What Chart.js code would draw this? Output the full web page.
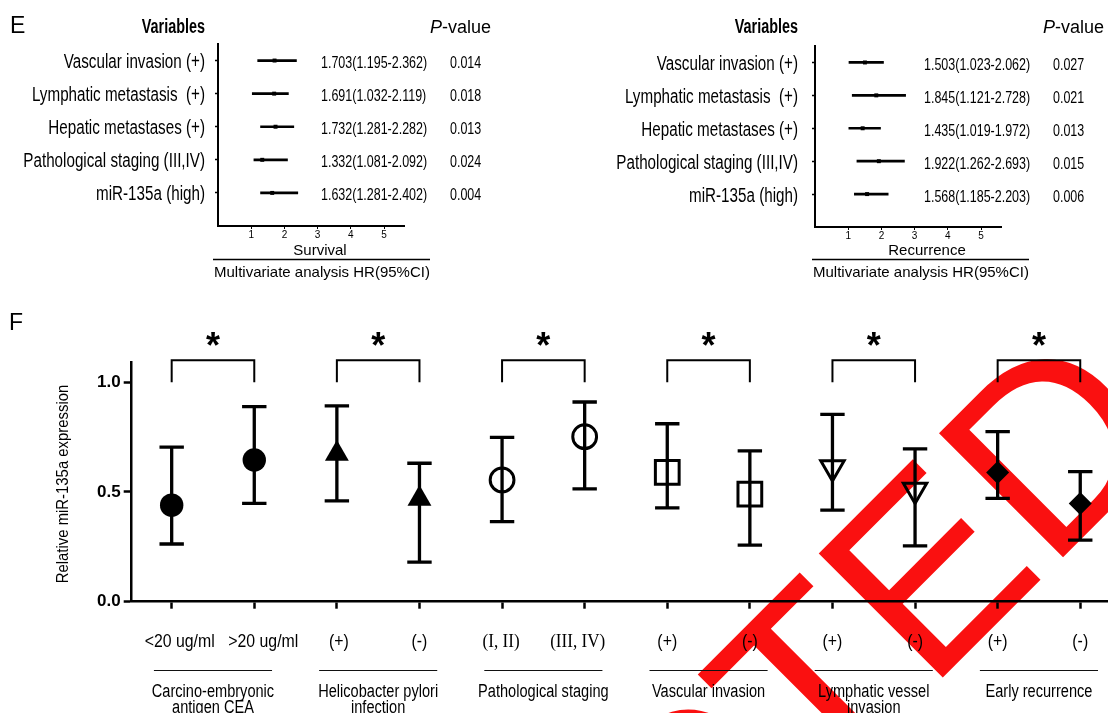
<!DOCTYPE html>
<html>
<head>
<meta charset="utf-8">
<title>Multivariate analysis and miR-135a expression</title>
<script src="https://cdn.jsdelivr.net/npm/chart.js@4.4.1/dist/chart.umd.min.js"></script>
<style>
  html, body { margin:0; padding:0; background:#fff; }
  body { width:1108px; height:713px; overflow:hidden; position:relative; }
  canvas { position:absolute; display:block; }
</style>
</head>
<body>
<canvas id="chartF" width="1108" height="713" style="left:0;top:0;width:1108px;height:713px"></canvas>
<canvas id="chartSurv" width="554" height="290" style="left:0;top:0;width:554px;height:290px"></canvas>
<canvas id="chartRec" width="554" height="290" style="left:554px;top:0;width:554px;height:290px"></canvas>
<script>
// ---------------- DATA ----------------
const forestVars = ['Vascular invasion (+)', 'Lymphatic metastasis  (+)', 'Hepatic metastases (+)', 'Pathological staging (III,IV)', 'miR-135a (high)'];
const survHR = [1.703, 1.691, 1.732, 1.332, 1.632];
const survLo = [1.195, 1.032, 1.281, 1.081, 1.281];
const survHi = [2.362, 2.119, 2.282, 2.092, 2.402];
const survP  = ['0.014', '0.018', '0.013', '0.024', '0.004'];
const recHR = [1.503, 1.845, 1.435, 1.922, 1.568];
const recLo = [1.023, 1.121, 1.019, 1.262, 1.185];
const recHi = [2.062, 2.728, 1.972, 2.693, 2.203];
const recP  = ['0.027', '0.021', '0.013', '0.015', '0.006'];
const hrTicks = [1, 2, 3, 4, 5];

const fCategories = ['<20 ug/ml', '>20 ug/ml', '(+)', '(-)', '(I, II)', '(III, IV)', '(+)', '(-)', '(+)', '(-)', '(+)', '(-)'];
const fGroups = [['Carcino-embryonic', 'antigen CEA'], ['Helicobacter pylori', 'infection'], ['Pathological staging'], ['Vascular invasion'], ['Lymphatic vessel', 'invasion'], ['Early recurrence']];
const fMean  = [0.440, 0.646, 0.674, 0.469, 0.555, 0.752, 0.589, 0.490, 0.611, 0.509, 0.589, 0.448];
const fUpper = [0.704, 0.889, 0.892, 0.631, 0.749, 0.910, 0.811, 0.687, 0.854, 0.696, 0.775, 0.593];
const fLower = [0.263, 0.448, 0.459, 0.180, 0.365, 0.514, 0.428, 0.258, 0.417, 0.254, 0.471, 0.281];
const fYTicks = [0, 0.5, 1.0];
const fSignif = ['*', '*', '*', '*', '*', '*'];

// ---------------- HELPERS ----------------
const SANS = '"Liberation Sans", Arial, sans-serif';
const SERIF = '"Liberation Serif", "Times New Roman", serif';
function txt(ctx, s, x, y, o) {
  ctx.save();
  ctx.font = o.font;
  ctx.fillStyle = o.color || '#000';
  ctx.textBaseline = o.base || 'alphabetic';
  ctx.textAlign = o.align || 'left';
  ctx.translate(x, y);
  if (o.rot) ctx.rotate(o.rot);
  ctx.scale(o.sx || 1, 1);
  ctx.fillText(s, 0, 0);
  ctx.restore();
}
function hline(ctx, x1, x2, y, w, c) {
  ctx.save(); ctx.strokeStyle = c || '#000'; ctx.lineWidth = w;
  ctx.beginPath(); ctx.moveTo(x1, y); ctx.lineTo(x2, y); ctx.stroke(); ctx.restore();
}

// ---------------- FOREST PLOTS ----------------
function forestDecor(o) {
  return {
    id: 'forestDecor',
    afterDraw(chart) {
      const ctx = chart.ctx, ys = chart.scales.y;
      if (o.letter) txt(ctx, o.letter, 10, 33, { font: '23px ' + SANS });
      txt(ctx, 'Variables', o.labelRight, 33, { font: 'bold 20px ' + SANS, align: 'right', sx: 0.72 });
      ctx.save();
      ctx.font = 'italic 18px ' + SANS;
      const pw = ctx.measureText('P').width;
      ctx.restore();
      txt(ctx, 'P', o.pHead, 33, { font: 'italic 18px ' + SANS });
      txt(ctx, '-value', o.pHead + pw, 33, { font: '18px ' + SANS });
      forestVars.forEach((v, i) => {
        const py = ys.getPixelForValue(i);
        txt(ctx, v, o.labelRight, py + 7.5, { font: '20px ' + SANS, align: 'right', sx: 0.76 });
        const s = o.hr[i].toFixed(3) + '(' + o.lo[i].toFixed(3) + '-' + o.hi[i].toFixed(3) + ')';
        txt(ctx, s, o.hrLeft, py + 7.5, { font: '16px ' + SANS, sx: 0.78 });
        txt(ctx, o.p[i], o.pLeft, py + 7.5, { font: '16px ' + SANS, sx: 0.78 });
      });
      txt(ctx, o.title, o.titleCenter, 255, { font: '15px ' + SANS, align: 'center' });
      hline(ctx, o.lineL, o.lineR, 259.5, 1.5);
      txt(ctx, 'Multivariate analysis HR(95%CI)', o.lineL + 1, 277, { font: '15px ' + SANS });
    }
  };
}

function makeForest(id, hr, lo, hi, p, pad, deco) {
  return new Chart(document.getElementById(id), {
    type: 'bar',
    data: {
      datasets: [
        {
          type: 'bar', indexAxis: 'y', grouped: false,
          data: hr.map((_, i) => ({ y: i, x: [lo[i], hi[i]] })),
          backgroundColor: '#000', borderWidth: 0, barThickness: 2
        },
        {
          type: 'scatter',
          data: hr.map((v, i) => ({ x: v, y: i })),
          pointStyle: 'rect', pointRadius: 2.8, backgroundColor: '#000', borderColor: '#000', borderWidth: 0
        }
      ]
    },
    options: {
      responsive: false, animation: false, devicePixelRatio: 1, events: [],
      layout: { padding: pad, autoPadding: false },
      plugins: { legend: { display: false }, tooltip: { enabled: false } },
      scales: {
        x: {
          type: 'linear', min: 0, max: 5.6, offset: false,
          afterBuildTicks: s => { s.ticks = hrTicks.map(v => ({ value: v })); },
          afterFit: s => { s.height = 14; s.paddingLeft = 0; s.paddingRight = 0; },
          grid: { display: true, drawOnChartArea: false, drawTicks: true, tickLength: 3, tickWidth: 1, tickColor: '#000', offset: false },
          border: { display: true, color: '#000', width: 2 },
          ticks: { autoSkip: false, color: '#000', padding: 0, font: { family: 'Liberation Sans', size: 10 } }
        },
        y: {
          type: 'linear', min: -0.5, max: 5, reverse: true, offset: false,
          afterBuildTicks: s => { s.ticks = forestVars.map((_, i) => ({ value: i })); },
          afterFit: s => { s.width = 8; },
          grid: { display: true, drawOnChartArea: false, drawTicks: true, tickLength: 3, tickWidth: 1.5, tickColor: '#000', offset: false },
          border: { display: true, color: '#000', width: 2 },
          ticks: { display: false, autoSkip: false }
        }
      }
    },
    plugins: [deco]
  });
}

makeForest('chartSurv', survHR, survLo, survHi, survP,
  { left: 210, right: 150, top: 44, bottom: 50 },
  forestDecor({ letter: 'E', labelRight: 205, hrLeft: 321, pLeft: 450, pHead: 430, title: 'Survival', titleCenter: 320, lineL: 213, lineR: 430,
                hr: survHR, lo: survLo, hi: survHi, p: survP }));
makeForest('chartRec', recHR, recLo, recHi, recP,
  { left: 253, right: 107, top: 46, bottom: 49 },
  forestDecor({ letter: null, labelRight: 244, hrLeft: 370, pLeft: 499, pHead: 489, title: 'Recurrence', titleCenter: 373, lineL: 258, lineR: 475,
                hr: recHR, lo: recLo, hi: recHi, p: recP }));

// ---------------- PANEL F ----------------
const mStyle  = ['circle', 'circle', 'triangle', 'triangle', 'circle', 'circle', 'rect', 'rect', 'triangle', 'triangle', 'rectRot', 'rectRot'];
const mRadius = [11.7, 11.7, 13.8, 13.8, 11.9, 11.9, 16.8, 16.8, 13.5, 13.5, 11.5, 11.5];
const mRot    = [0, 0, 0, 0, 0, 0, 0, 0, 180, 180, 0, 0];
const mFill   = ['#000', '#000', '#000', '#000', 'rgba(0,0,0,0)', 'rgba(0,0,0,0)', 'rgba(0,0,0,0)', 'rgba(0,0,0,0)', 'rgba(0,0,0,0)', 'rgba(0,0,0,0)', '#000', '#000'];
const mBorder = [0, 0, 0, 0, 3, 3, 3, 3, 3, 3, 0, 0];
const labelNudge = [8, 9, 2, 0, -1, -7, 0, 0, 0, 0, 0, 0];

const fDecor = {
  id: 'fDecor',
  beforeDraw(chart) {
    const ctx = chart.ctx;
    ctx.save();
    ctx.font = '255px ' + SANS;
    ctx.fillStyle = 'rgb(250,16,16)';
    ctx.translate(812, 550);
    ctx.rotate(-Math.PI / 4);
    const pre = ctx.measureText('RETRACT').width;
    ctx.fillText('RETRACTED', -pre - 0.073 * 255, 0.716 * 255);
    ctx.restore();
  },
  beforeDatasetsDraw(chart) {
    const ctx = chart.ctx, xs = chart.scales.x, ys = chart.scales.y;
    ctx.save();
    ctx.strokeStyle = '#000'; ctx.lineWidth = 3.3; ctx.lineCap = 'butt';
    fMean.forEach((m, i) => {
      const px = xs.getPixelForValue(i), pt = ys.getPixelForValue(fUpper[i]), pb = ys.getPixelForValue(fLower[i]);
      ctx.beginPath();
      ctx.moveTo(px, pt); ctx.lineTo(px, pb);
      ctx.moveTo(px - 12.2, pt); ctx.lineTo(px + 12.2, pt);
      ctx.moveTo(px - 12.2, pb); ctx.lineTo(px + 12.2, pb);
      ctx.stroke();
    });
    ctx.restore();
  },
  afterDraw(chart) {
    const ctx = chart.ctx, xs = chart.scales.x, ys = chart.scales.y;
    txt(ctx, 'F', 9, 330, { font: '23px ' + SANS });
    txt(ctx, 'Relative miR-135a expression', 63.5, 484, { font: '16px ' + SANS, align: 'center', base: 'middle', rot: -Math.PI / 2, sx: 0.93 });
    // significance brackets
    const y1 = ys.getPixelForValue(1.0), y2 = ys.getPixelForValue(1.1);
    ctx.save(); ctx.strokeStyle = '#000'; ctx.lineWidth = 2; ctx.lineJoin = 'miter';
    fGroups.forEach((g, k) => {
      const xa = xs.getPixelForValue(2 * k), xb = xs.getPixelForValue(2 * k + 1);
      ctx.beginPath(); ctx.moveTo(xa, y1); ctx.lineTo(xa, y2); ctx.lineTo(xb, y2); ctx.lineTo(xb, y1); ctx.stroke();
      txt(ctx, fSignif[k], (xa + xb) / 2, y2 - 2, { font: 'bold 36px ' + SANS, align: 'center' });
    });
    ctx.restore();
    // category labels
    fCategories.forEach((c, i) => {
      const px = xs.getPixelForValue(i) + labelNudge[i];
      const serif = c.indexOf('I') >= 0;
      txt(ctx, c, px, 647, { font: (serif ? '18px ' + SERIF : '18px ' + SANS), align: 'center', sx: serif ? 0.95 : 0.88 });
    });
    // group lines and names
    fGroups.forEach((g, k) => {
      const xl = xs.getPixelForValue(2 * k + 0.5 - 0.715), xr = xs.getPixelForValue(2 * k + 0.5 + 0.715);
      hline(ctx, xl, xr, 670.5, 1.2, '#111');
      const cx = (xl + xr) / 2;
      g.forEach((line, j) => {
        txt(ctx, line, cx, 697 + j * 15.5, { font: '18px ' + SANS, align: 'center', sx: 0.81 });
      });
    });
  }
};

new Chart(document.getElementById('chartF'), {
  type: 'scatter',
  data: {
    datasets: [{
      data: fMean.map((m, i) => ({ x: i, y: m })),
      pointStyle: mStyle, pointRadius: mRadius, rotation: mRot,
      backgroundColor: mFill, borderColor: '#000', borderWidth: mBorder
    }]
  },
  options: {
    responsive: false, animation: false, devicePixelRatio: 1, events: [],
    layout: { padding: { left: 81.7, right: 0, top: 362.5, bottom: 81.3 }, autoPadding: false },
    plugins: { legend: { display: false }, tooltip: { enabled: false } },
    scales: {
      x: {
        type: 'linear', min: -0.484, max: 11.336,
        afterBuildTicks: s => { s.ticks = fCategories.map((_, i) => ({ value: i })); },
        afterFit: s => { s.height = 30; s.paddingLeft = 0; s.paddingRight = 0; },
        grid: { display: true, drawOnChartArea: false, drawTicks: true, tickLength: 7, tickWidth: 2.5, tickColor: '#000' },
        border: { display: true, color: '#000', width: 2.5 },
        ticks: { display: false, autoSkip: false }
      },
      y: {
        type: 'linear', min: 0, max: 1.09,
        afterBuildTicks: s => { s.ticks = fYTicks.map(v => ({ value: v })); },
        afterFit: s => { s.width = 50; },
        grid: { display: true, drawOnChartArea: false, drawTicks: true, tickLength: 8, tickWidth: 2.5, tickColor: '#000' },
        border: { display: true, color: '#000', width: 2.5 },
        ticks: { autoSkip: false, color: '#000', padding: 3, font: { family: 'Liberation Sans', size: 17, weight: 'bold' }, callback: v => Number(v).toFixed(1) }
      }
    }
  },
  plugins: [fDecor]
});
</script>
</body>
</html>
